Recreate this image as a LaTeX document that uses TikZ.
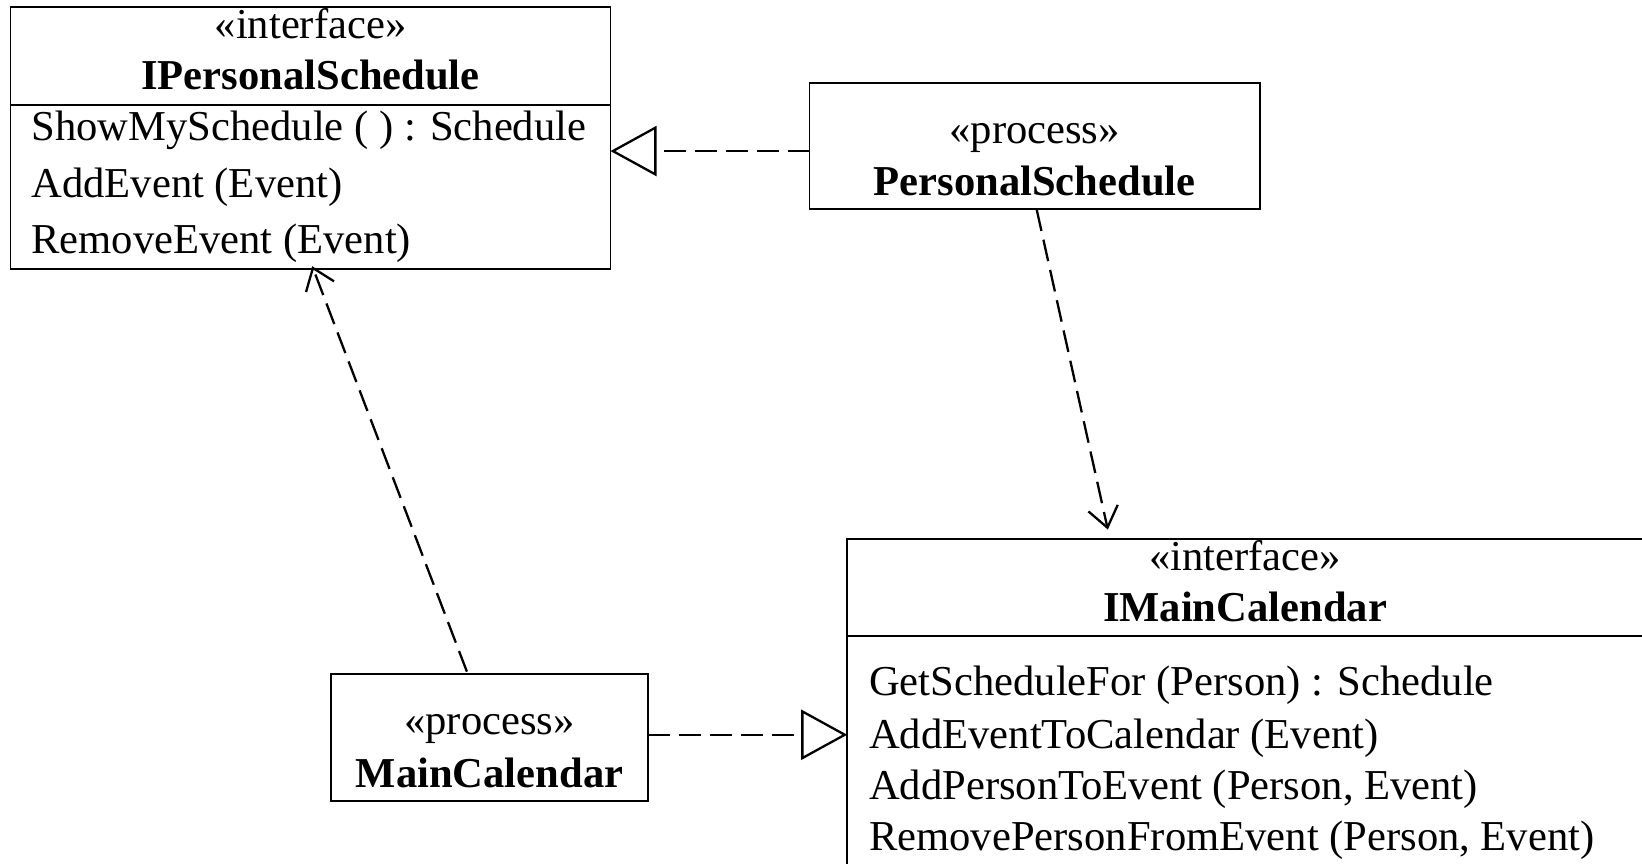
\documentclass[tikz,border=0pt]{standalone}
\usepackage{fontspec}
\setmainfont{Liberation Serif}
\usetikzlibrary{arrows.meta,calc}
\begin{document}
\begin{tikzpicture}[x=1pt,y=-1pt,
  every node/.style={inner sep=0pt, outer sep=0pt, font=\fontsize{42.6}{51}\selectfont},
  classbox/.style={draw, line width=1.9pt, rectangle, anchor=north west},
  title/.style={anchor=base},
  oper/.style={anchor=base west},
  dashline/.style={line width=2.3pt, dash pattern=on 22pt off 9pt},
  depend/.style={dashline, -{Straight Barb[length=20pt, width=30pt, line width=2.3pt]}},
  realize/.style={dashline, -{Triangle[open, length=46pt, width=50pt, line width=2.3pt]}}
]
\useasboundingbox (0,0) rectangle (1642,863);
\clip (0,0) rectangle (1642,863);

% IPersonalSchedule interface
\node[classbox, minimum width=600pt, minimum height=97.4pt] (IPSh) at (10.5,7.3) {};
\node[classbox, minimum width=600pt, minimum height=164.3pt] (IPSb) at (10.5,104.7) {};
\node[title] (IPSst) at ($(IPSh.north)+(0,30.7)$) {«interface»};
\node[title] (IPSnm) at ($(IPSh.north)+(0,81.7)$) {\bfseries IPersonalSchedule};
\node[oper] (IPSo1) at ($(IPSb.north west)+(20.9,36)$) {ShowMySchedule ( ) : Schedule};
\node[oper] (IPSo2) at ($(IPSb.north west)+(20.9,92.8)$) {AddEvent (Event)};
\node[oper] (IPSo3) at ($(IPSb.north west)+(20.9,148.8)$) {RemoveEvent (Event)};

% PersonalSchedule process
\node[classbox, minimum width=450.3pt, minimum height=126.7pt] (PS) at (809.5,82.7) {};
\node[title] (PSst) at ($(PS.north)+(0,60.5)$) {«process»};
\node[title] (PSnm) at ($(PS.north)+(0,112.3)$) {\bfseries PersonalSchedule};

% MainCalendar process
\node[classbox, minimum width=317.3pt, minimum height=126.7pt] (MC) at (330.9,674.4) {};
\node[title] (MCst) at ($(MC.north)+(0,60.5)$) {«process»};
\node[title] (MCnm) at ($(MC.north)+(0,112.6)$) {\bfseries MainCalendar};

% IMainCalendar interface (runs past the right and bottom edges)
\node[classbox, minimum width=820pt, minimum height=96.3pt] (IMCh) at (847.2,539.3) {};
\node[classbox, minimum width=820pt, minimum height=260pt] (IMCb) at (847.2,635.6) {};
\node[title] (IMCst) at ($(IMCh.north west)+(397.8,30.7)$) {«interface»};
\node[title] (IMCnm) at ($(IMCh.north west)+(397.8,81.7)$) {\bfseries IMainCalendar};
\node[oper] (IMCo1) at ($(IMCb.north west)+(22,60.1)$) {GetScheduleFor (Person) : Schedule};
\node[oper] (IMCo2) at ($(IMCb.north west)+(22,112.4)$) {AddEventToCalendar (Event)};
\node[oper] (IMCo3) at ($(IMCb.north west)+(22,163.8)$) {AddPersonToEvent (Person, Event)};
\node[oper] (IMCo4) at ($(IMCb.north west)+(22,215.1)$) {RemovePersonFromEvent (Person, Event)};

% connector end points on the box outlines
\coordinate (psOut) at ($(PS.west)+(0,5)$);
\coordinate (mcOut) at ($(MC.east)+(0,-3)$);
\coordinate (psDown) at ($(PS.south)+(2,0)$);
\coordinate (imcTop) at ($(IMCh.north west)+(262.8,0)$);
\coordinate (mcUp) at ($(MC.north)+(-21.6,0)$);
\coordinate (ipsBottom) at ($(IPSb.south)+(2.8,0)$);

% realizations
\draw[realize] (psOut) -- (psOut -| IPSb.east);
\draw[realize] (mcOut) -- (mcOut -| IMCb.west);

% dependencies
\draw[depend, shorten >=10pt] (psDown) -- (imcTop);
\draw[depend, shorten <=3pt, shorten >=-3pt] (mcUp) -- (ipsBottom);
\end{tikzpicture}
\end{document}
